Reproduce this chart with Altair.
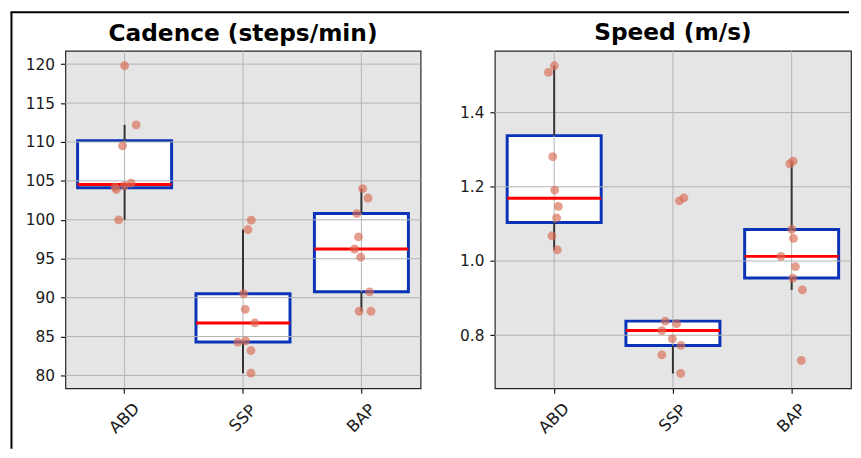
import altair as alt
import pandas as pd

groups = ["ABD", "SSP", "BAP"]

# Cadence (steps/min) per group, with horizontal jitter (fraction of category width)
cad_abd = [119.8, 112.2, 109.5, 104.2, 103.9, 104.4, 104.7, 100.0]
cad_abd_jit = [0.0, 0.098, -0.017, -0.081, -0.069, 0.0, 0.056, -0.05]
cad_ssp = [99.95, 98.75, 90.5, 88.5, 86.75, 84.3, 84.45, 83.2, 80.3]
cad_ssp_jit = [0.07, 0.042, 0.006, 0.019, 0.1, -0.044, 0.022, 0.067, 0.067]
cad_bap = [104.0, 102.8, 100.8, 97.8, 96.25, 95.2, 90.75, 88.25, 88.25]
cad_bap_jit = [0.011, 0.056, -0.039, -0.025, -0.058, -0.006, 0.069, -0.019, 0.081]

# Speed (m/s)
spd_abd = [1.526, 1.508, 1.281, 1.191, 1.147, 1.116, 1.068, 1.030]
spd_abd_jit = [0.003, -0.047, -0.011, 0.006, 0.036, 0.022, -0.017, 0.028]
spd_ssp = [1.162, 1.170, 0.838, 0.831, 0.8125, 0.790, 0.7725, 0.747, 0.697]
spd_ssp_jit = [0.056, 0.094, -0.064, 0.033, -0.092, -0.003, 0.069, -0.092, 0.067]
spd_bap = [1.269, 1.262, 1.085, 1.061, 1.0125, 0.985, 0.954, 0.922, 0.732]
spd_bap_jit = [0.014, -0.014, 0.003, 0.017, -0.089, 0.033, 0.011, 0.092, 0.083]

cad_ticks = [80, 85, 90, 95, 100, 105, 110, 115, 120]
spd_ticks = [0.8, 1.0, 1.2, 1.4]

BLUE = "#0a33b8"
GRID = "#b3b3b3"
PT = "#d86a52"
W = 359
H = 341


def panel(title, vals, jits, ticks, domain, fmt, width, frame=False):
    rows = []
    for g, v, j in zip(groups, vals, jits):
        for a, b in zip(v, j):
            rows.append({"group": g, "value": a, "jit": b})
    df = pd.DataFrame(rows)
    xscale = alt.Scale(domain=groups, paddingInner=0, paddingOuter=0)
    xenc = alt.X("group:N", sort=groups, scale=xscale,
                 axis=alt.Axis(title=None, labelAngle=-45, labelAlign="center",
                               labelBaseline="middle", labelPadding=25, tickSize=5,
                               labelFontSize=16.5))
    yscale = alt.Scale(domain=domain, nice=False, zero=False)
    yenc = alt.Y("value:Q", scale=yscale,
                 axis=alt.Axis(title=None, values=ticks, format=fmt, tickSize=5,
                               labelPadding=6, labelFontSize=15.5))

    box = alt.Chart(df).mark_boxplot(
        extent=1.5, size=95,
        box={"fill": "white", "stroke": BLUE, "strokeWidth": 3, "opacity": 1},
        median=False, rule=False, ticks=False, outliers=False,
    ).encode(x=xenc, y=yenc)

    hgrid = alt.Chart(pd.DataFrame({"value": ticks})).mark_rule(
        color=GRID, strokeWidth=1).encode(y=yenc)
    vgrid = alt.Chart(pd.DataFrame({"group": groups})).mark_rule(
        color=GRID, strokeWidth=1).encode(x=xenc)

    whisk = alt.Chart(df).mark_boxplot(
        extent=1.5, size=95, box=False,
        rule={"color": "#333333", "strokeWidth": 2, "opacity": 1},
        median={"color": "#ff0000", "thickness": 3, "opacity": 1},
        ticks=False, outliers=False,
    ).encode(x=xenc, y=yenc)

    pts = alt.Chart(df).mark_circle(size=80, color=PT, opacity=0.65).encode(
        x=xenc,
        xOffset=alt.XOffset("jit:Q", scale=alt.Scale(domain=[-0.5, 0.5], range=[0, width / 3])),
        y=yenc,
    )

    layers = [box, hgrid, vgrid, whisk, pts]
    dy = -1
    if frame:
        fdf = pd.DataFrame({"k": [0]})
        vline = alt.Chart(fdf).mark_rule(color="black", strokeWidth=2).encode(
            x=alt.value(-54.5), y=alt.value(-39), y2=alt.value(402))
        hline = alt.Chart(fdf).mark_rule(color="black", strokeWidth=2).encode(
            x=alt.value(-55.5), x2=alt.value(792), y=alt.value(-39))
        layers = [vline, hline] + layers
        dy = 39
    return alt.layer(*layers).properties(
        width=width, height=H,
        title=alt.TitleParams(title, frame="group", anchor="middle", dy=dy),
    )


left = panel("Cadence (steps/min)", [cad_abd, cad_ssp, cad_bap],
             [cad_abd_jit, cad_ssp_jit, cad_bap_jit], cad_ticks,
             [78.35, 121.7], "d", W, frame=True)
right = panel("Speed (m/s)", [spd_abd, spd_ssp, spd_bap],
              [spd_abd_jit, spd_ssp_jit, spd_bap_jit], spd_ticks,
              [0.657, 1.566], ".1f", 360)

chart = alt.hconcat(left, right, spacing=75, bounds="flush", padding=0).configure_view(
    fill="#e5e5e5", stroke="#262626", strokeWidth=1.2
).configure_axis(
    domain=False, grid=False, labelFont="DejaVu Sans",
    labelColor="#1a1a1a", tickColor="#1a1a1a", tickWidth=1.2,
).configure_title(
    font="DejaVu Sans", fontSize=23.5, fontWeight="bold", color="black", offset=5,
).properties(background="white")

chart.save("out.html", embed_options={"renderer": "svg", "actions": False})
